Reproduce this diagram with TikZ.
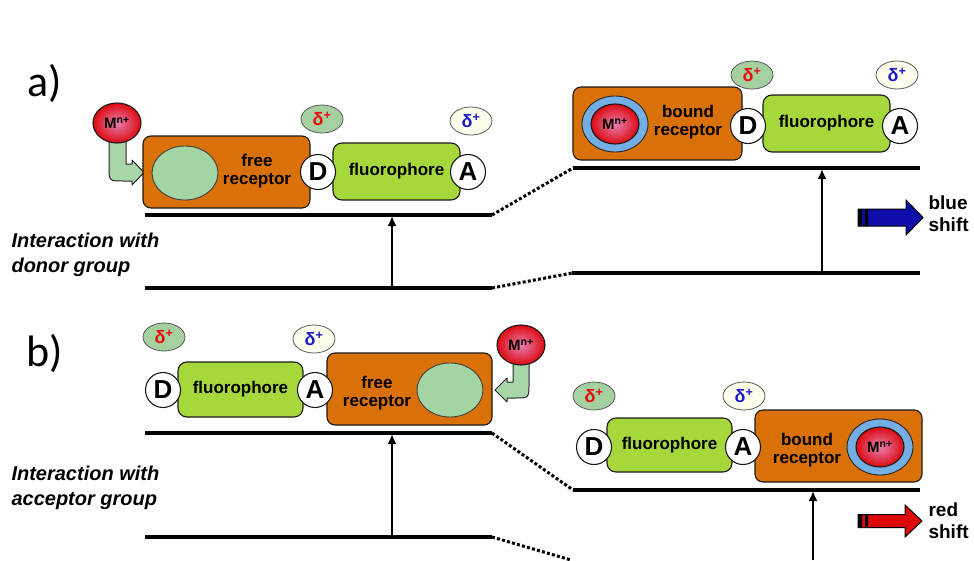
\documentclass[tikz,border=0pt]{standalone}
\usepackage{fontspec}
\setmainfont{Liberation Sans}
\newfontfamily\panelfont{Carlito}
\usetikzlibrary{shapes,arrows,arrows.meta,positioning}

\definecolor{recorange}{RGB}{217,112,8}
\definecolor{fluogreen}{RGB}{166,216,60}
\definecolor{pocketgreen}{RGB}{163,212,163}
\definecolor{arrowgreen}{RGB}{168,214,168}
\definecolor{deltagreen}{RGB}{165,208,160}
\definecolor{deltacream}{RGB}{255,253,236}
\definecolor{ringblue}{RGB}{115,175,228}
\definecolor{metalred}{RGB}{220,10,16}
\definecolor{metalpink}{RGB}{232,128,178}
\definecolor{shiftblue}{RGB}{12,12,168}
\definecolor{shiftred}{RGB}{222,8,8}
\definecolor{deltared}{RGB}{235,10,10}
\definecolor{deltablue}{RGB}{25,25,200}

\newcommand{\labfont}{\fontsize{17}{18}\selectfont\bfseries}
\newcommand{\Mion}{M\textsuperscript{n+}}
\newcommand{\dplus}{δ\textsuperscript{+}}

\tikzset{upward/.style={draw=black, line width=2.6pt, -{Latex[length=10pt,width=9pt]}}}

\begin{document}
\begin{tikzpicture}[x=1pt, y=-1pt, >=latex,
  recbox/.style={rounded corners=8pt, draw=black!90, line width=1.1pt, fill=recorange, inner sep=0pt},
  fluobox/.style={rounded corners=9pt, draw=black!90, line width=1.1pt, fill=fluogreen, inner sep=0pt, font=\labfont},
  group/.style={circle, draw=black!90, line width=1.1pt, fill=white, inner sep=0pt, minimum size=35pt, font=\fontsize{26}{26}\selectfont\bfseries},
  pocket/.style={ellipse, draw=black!75, line width=0.9pt, fill=pocketgreen, minimum width=66pt, minimum height=54pt},
  ion/.style={ellipse, draw=black!90, line width=1.1pt, inner color=metalpink, outer color=metalred, minimum width=48pt, minimum height=40pt, inner sep=0pt, font=\fontsize{15}{15}\selectfont\bfseries},
  ring/.style={ellipse, draw=black!85, line width=0.9pt, fill=ringblue, minimum width=66pt, minimum height=56pt},
  delta/.style={ellipse, draw=black!65, line width=0.8pt, minimum width=42pt, minimum height=28pt, inner sep=0pt, font=\fontsize{18}{18}\selectfont\bfseries},
  dd/.style={delta, fill=deltagreen, text=deltared},
  da/.style={delta, fill=deltacream, text=deltablue},
  txt/.style={align=center, font=\labfont},
  side/.style={align=left, anchor=west, font=\fontsize{20}{25}\selectfont\bfseries\itshape},
  shifttxt/.style={align=left, anchor=west, font=\fontsize{19}{22}\selectfont\bfseries},
  panel/.style={font=\panelfont\fontsize{44}{44}\selectfont},
  bent/.style={draw=black!85, line width=1pt, fill=arrowgreen, line join=round},
  shiftarrow/.style={draw=black, line width=1pt, line join=miter},
  enline/.style={line width=3.2pt},
  jump/.style={line width=3pt, dash pattern=on 3pt off 2.2pt}]
\useasboundingbox (0,0) rectangle (974,560);

% ---- a) interaction with donor group
\node[panel] (aLab) at (45,83) {a)};
\draw[bent] (109,140) -- (109,166) .. controls (109,181) .. (123,181) -- (132,181) -- (132,185)
  -- (144,172.5) -- (132,160) -- (132,164) -- (126,164) -- (126,140) -- cycle;
\node[ion] (aM) at (117,123) {\Mion};
\node[recbox, minimum width=167pt, minimum height=72pt] (aRec) at (226.5,172) {};
\node[pocket] (aPocket) at (185,173) {};
\node[txt] (aRecTxt) at (257,171) {free\\receptor};
\node[fluobox, minimum width=127pt, minimum height=57pt] (aFl) at (396.5,171.5) {fluorophore};
\node[group] (aD) at (318,172) {D};
\node[group] (aA) at (468,172) {A};
\node[dd] (aDelD) at (322,119) {\dplus};
\node[da] (aDelA) at (471,121) {\dplus};

\node[recbox, minimum width=169pt, minimum height=73pt] (aBRec) at (657.5,123.5) {};
\node[ring] (aRing) at (615,124) {};
\node[ion] (aBM) at (615,124) {\Mion};
\node[txt] (aBRecTxt) at (688,122) {bound\\receptor};
\node[fluobox, minimum width=127pt, minimum height=57pt] (aBFl) at (826.5,123.5) {fluorophore};
\node[group] (aBD) at (748,126) {D};
\node[group] (aBA) at (900,126) {A};
\node[dd] (aBDelD) at (752,75) {\dplus};
\node[da] (aBDelA) at (897,75) {\dplus};

\coordinate (aExL) at (145,215);
\coordinate (aExK) at (492,215);
\coordinate (aExR) at (573,168);
\coordinate (aExE) at (920,168);
\coordinate (aGrL) at (145,288);
\coordinate (aGrK) at (492,288);
\coordinate (aGrR) at (572,273);
\coordinate (aGrE) at (920,273);
\draw[enline] (aExL) -- (aExK);
\draw[jump] (aExK) -- (aExR);
\draw[enline] (aExR) -- (aExE);
\draw[enline] (aGrL) -- (aGrK);
\draw[jump] (aGrK) -- (aGrR);
\draw[enline] (aGrR) -- (aGrE);
\coordinate (aAbs0) at (392,288);
\coordinate (aAbs1) at (392,216);
\coordinate (aBAbs0) at (822,273);
\coordinate (aBAbs1) at (822,169);
\draw[upward] (aAbs0) -- (aAbs1);
\draw[upward] (aBAbs0) -- (aBAbs1);

\node[side] (aSide) at (8,254.5) {Interaction with\\donor group};
\draw[shiftarrow, fill=shiftblue] (858,209) -- (906,209) -- (906,200) -- (923,217.5)
  -- (906,235) -- (906,226) -- (858,226) -- cycle;
\fill (858,209) rectangle (862,226) (865,209) rectangle (868,226);
\node[shifttxt] (aShift) at (925,214) {blue\\shift};

% ---- b) interaction with acceptor group
\node[panel] (bLab) at (45,353) {b)};
\node[dd] (bDelD) at (164,337) {\dplus};
\node[da] (bDelA) at (314,339) {\dplus};
\draw[bent] (529,360) -- (529,383) .. controls (529,398) .. (515,398) -- (507,398) -- (507,402)
  -- (495,390) -- (507,378) -- (507,382) -- (513,382) -- (513,360) -- cycle;
\node[ion] (bM) at (521,345) {\Mion};
\node[fluobox, minimum width=125pt, minimum height=55pt] (bFl) at (240.5,389.5) {fluorophore};
\node[recbox, minimum width=165pt, minimum height=72pt] (bRec) at (409.5,389) {};
\node[pocket] (bPocket) at (450,390) {};
\node[txt] (bRecTxt) at (377,393) {free\\receptor};
\node[group] (bD) at (163,390) {D};
\node[group] (bA) at (315,390) {A};

\node[dd] (bBDelD) at (594,396) {\dplus};
\node[da] (bBDelA) at (744,396) {\dplus};
\node[fluobox, minimum width=125pt, minimum height=54pt] (bBFl) at (669.5,445) {fluorophore};
\node[recbox, minimum width=167pt, minimum height=72pt] (bBRec) at (838.5,446) {};
\node[ring] (bRing) at (880,447) {};
\node[ion] (bBM) at (880,447) {\Mion};
\node[txt] (bBRecTxt) at (807,450) {bound\\receptor};
\node[group] (bBD) at (594,447) {D};
\node[group] (bBA) at (743,447) {A};

\coordinate (bExL) at (145,433);
\coordinate (bExK) at (492,433);
\coordinate (bExR) at (573,490);
\coordinate (bExE) at (920,490);
\coordinate (bGrL) at (145,537);
\coordinate (bGrK) at (492,537);
\coordinate (bGrR) at (571,560);
\draw[enline] (bExL) -- (bExK);
\draw[jump] (bExK) -- (bExR);
\draw[enline] (bExR) -- (bExE);
\draw[enline] (bGrL) -- (bGrK);
\draw[jump] (bGrK) -- (bGrR);
\coordinate (bAbs0) at (392,537);
\coordinate (bAbs1) at (392,434);
\coordinate (bBAbs0) at (813,560);
\coordinate (bBAbs1) at (813,491);
\draw[upward] (bAbs0) -- (bAbs1);
\draw[upward] (bBAbs0) -- (bBAbs1);

\node[side] (bSide) at (8,487.5) {Interaction with\\acceptor group};
\draw[shiftarrow, fill=shiftred] (858,514.5) -- (905,514.5) -- (905,505) -- (922,521)
  -- (905,537) -- (905,527.5) -- (858,527.5) -- cycle;
\fill (858,514.5) rectangle (862,527.5) (865,514.5) rectangle (868,527.5);
\node[shifttxt] (bShift) at (925,521) {red\\shift};
\end{tikzpicture}
\end{document}
